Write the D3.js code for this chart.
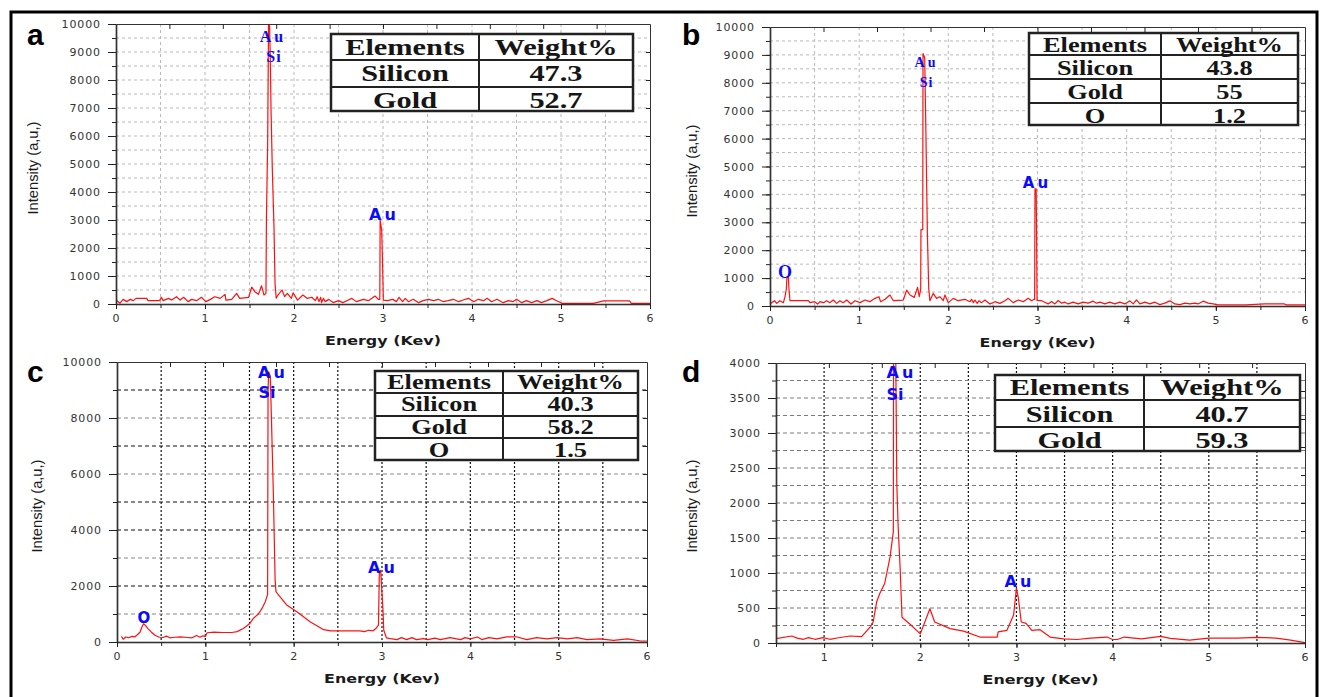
<!DOCTYPE html>
<html><head><meta charset="utf-8">
<script src="https://cdn.jsdelivr.net/npm/d3@7"></script>
<style>body{margin:0;background:#fff;} svg{display:block;}</style>
</head><body>
<svg id="fig" width="1320" height="697"></svg>
<script>
// ---------------- DATA ----------------
const spectrumA = [[0.00,140],[0.045,30],[0.08,165],[0.12,85],[0.16,165],[0.195,120],[0.225,200],[0.345,200],[0.36,120],[0.49,120],[0.51,240],[0.53,120],[0.59,200],[0.625,140],[0.68,260],[0.72,140],[0.76,240],[0.81,85],[0.85,165],[0.905,120],[0.96,240],[1.01,85],[1.06,165],[1.11,260],[1.17,200],[1.225,345],[1.235,140],[1.30,165],[1.355,380],[1.39,200],[1.49,240],[1.525,600],[1.56,440],[1.60,345],[1.635,650],[1.663,320],[1.685,380],[1.69,3000],[1.704,5740],[1.715,10500],[1.722,10500],[1.735,8500],[1.742,6930],[1.756,4860],[1.775,2760],[1.787,740],[1.80,210],[1.82,320],[1.865,500],[1.895,260],[1.925,380],[1.97,200],[1.99,400],[2.04,140],[2.10,320],[2.15,200],[2.20,240],[2.24,120],[2.26,260],[2.28,85],[2.30,240],[2.31,50],[2.33,200],[2.35,85],[2.39,165],[2.44,50],[2.50,120],[2.55,50],[2.61,140],[2.65,200],[2.70,85],[2.78,165],[2.835,120],[2.91,285],[2.948,165],[2.964,165],[2.968,3000],[2.985,2640],[2.996,1330],[3.004,140],[3.05,120],[3.11,165],[3.15,85],[3.18,240],[3.22,85],[3.25,200],[3.285,83],[3.34,167],[3.40,48],[3.45,119],[3.51,167],[3.57,119],[3.62,167],[3.68,83],[3.73,119],[3.79,167],[3.85,83],[3.90,143],[3.96,202],[4.02,83],[4.07,167],[4.13,119],[4.17,202],[4.22,83],[4.28,167],[4.35,48],[4.41,119],[4.46,83],[4.50,167],[4.56,48],[4.61,119],[4.67,48],[4.73,119],[4.78,48],[4.84,119],[4.90,202],[4.95,119],[5.01,24],[5.36,24],[5.48,110],[5.77,110],[5.79,24],[6.0,24]];

const spectrumB = [[0.0,60],[0.02,120],[0.05,190],[0.075,95],[0.11,190],[0.15,120],[0.168,330],[0.183,600],[0.19,1050],[0.205,1050],[0.213,600],[0.224,190],[0.43,190],[0.448,120],[0.50,155],[0.534,70],[0.56,155],[0.60,120],[0.635,190],[0.67,120],[0.71,214],[0.747,95],[0.785,190],[0.82,120],[0.86,214],[0.908,70],[0.953,190],[1.01,120],[1.065,214],[1.12,155],[1.177,274],[1.222,333],[1.24,155],[1.29,240],[1.345,393],[1.383,190],[1.495,214],[1.532,571],[1.57,393],[1.618,310],[1.655,666],[1.674,333],[1.69,600],[1.693,2740],[1.713,2740],[1.716,9050],[1.735,8900],[1.748,6300],[1.765,2600],[1.78,630],[1.793,190],[1.83,452],[1.868,274],[1.905,333],[1.943,190],[1.962,393],[2.0,120],[2.055,274],[2.11,190],[2.186,240],[2.242,155],[2.26,240],[2.28,120],[2.298,214],[2.324,95],[2.343,190],[2.373,120],[2.41,214],[2.466,70],[2.522,155],[2.578,95],[2.634,190],[2.672,274],[2.728,120],[2.784,214],[2.84,155],[2.896,274],[2.933,190],[2.963,240],[2.968,240],[2.972,4200],[2.985,4200],[2.99,2500],[2.995,200],[3.045,190],[3.08,137],[3.12,75],[3.157,160],[3.195,75],[3.232,196],[3.27,102],[3.307,137],[3.344,75],[3.40,137],[3.456,75],[3.51,137],[3.568,102],[3.624,173],[3.662,102],[3.70,137],[3.755,75],[3.81,137],[3.867,75],[3.923,137],[3.98,75],[4.036,185],[4.073,75],[4.11,220],[4.148,75],[4.204,137],[4.26,75],[4.316,137],[4.372,50],[4.428,102],[4.485,185],[4.54,75],[4.597,50],[4.653,102],[4.71,75],[4.765,102],[4.80,75],[4.858,173],[4.914,102],[4.97,75],[5.026,40],[5.34,40],[5.55,75],[5.77,75],[5.79,40],[6.0,40]];

const spectrumC = [[0.05,200],[0.07,100],[0.1,180],[0.13,150],[0.17,200],[0.2,180],[0.23,260],[0.26,350],[0.28,520],[0.30,650],[0.32,600],[0.35,480],[0.39,350],[0.43,240],[0.48,170],[0.52,160],[0.56,210],[0.6,150],[0.65,170],[0.72,180],[0.8,160],[0.85,150],[0.9,230],[0.94,170],[0.97,220],[1.0,200],[1.02,330],[1.1,350],[1.2,340],[1.3,340],[1.36,370],[1.43,480],[1.5,650],[1.545,850],[1.6,1000],[1.64,1190],[1.68,1450],[1.705,1700],[1.71,9000],[1.717,9650],[1.735,9500],[1.744,8500],[1.77,5300],[1.79,2200],[1.8,1800],[1.83,1670],[1.925,1310],[2.04,1070],[2.19,715],[2.34,440],[2.42,400],[2.6,400],[2.75,400],[2.8,370],[2.85,420],[2.9,400],[2.93,480],[2.96,600],[2.97,2500],[2.985,2560],[3.0,1730],[3.01,1200],[3.02,420],[3.05,150],[3.095,120],[3.17,85],[3.22,155],[3.28,85],[3.34,155],[3.39,85],[3.47,120],[3.52,85],[3.6,140],[3.66,86],[3.77,157],[3.89,86],[3.94,157],[4.0,110],[4.08,180],[4.13,86],[4.21,157],[4.3,110],[4.41,180],[4.53,180],[4.64,86],[4.75,157],[4.87,110],[4.98,157],[5.1,110],[5.21,157],[5.32,86],[5.47,110],[5.62,60],[5.78,110],[5.93,36],[6.0,36]];

const spectrumD = [[0.5,63],[0.664,100],[0.72,70],[0.785,53],[0.837,77],[0.906,53],[0.99,77],[1.06,53],[1.15,75],[1.27,100],[1.39,90],[1.48,230],[1.51,300],[1.547,590],[1.58,710],[1.63,850],[1.686,1230],[1.72,1590],[1.722,4100],[1.745,4100],[1.756,2280],[1.77,1660],[1.79,1090],[1.81,370],[1.824,350],[1.9,260],[2.0,130],[2.1,490],[2.15,300],[2.31,205],[2.45,170],[2.62,85],[2.8,85],[2.81,160],[2.9,180],[2.97,400],[3.0,780],[3.02,640],[3.05,300],[3.1,280],[3.16,180],[3.245,190],[3.35,85],[3.49,60],[3.63,50],[3.77,70],[3.94,85],[4.0,50],[4.05,50],[4.12,85],[4.3,60],[4.5,95],[4.6,65],[4.8,40],[5.0,70],[5.3,70],[5.5,80],[5.7,70],[5.85,40],[6.0,5]];

const tableA = [["Elements","Weight%"],["Silicon","47.3"],["Gold","52.7"]];
const tableB = [["Elements","Weight%"],["Silicon","43.8"],["Gold","55"],["O","1.2"]];
const tableC = [["Elements","Weight%"],["Silicon","40.3"],["Gold","58.2"],["O","1.5"]];
const tableD = [["Elements","Weight%"],["Silicon","40.7"],["Gold","59.3"]];

const yTicks10k = [0,1000,2000,3000,4000,5000,6000,7000,8000,9000,10000];
const yTicksC = [0,2000,4000,6000,8000,10000];
const yTicksD = [0,500,1000,1500,2000,2500,3000,3500,4000];
const xTicks06 = [0,1,2,3,4,5,6];
const xTicksD = [1,2,3,4,5,6];
const peakLabelsA = ["Au","Si","Au"];
const peakLabelsB = ["Au","Si","Au","O"];
const peakLabelsC = ["Au","Si","Au","O"];
const peakLabelsD = ["Au","Si","Au"];
const panelLetters = ["a","b","c","d"];
const xTitle = "Energy (Kev)";
const yTitle = "Intensity (a,u,)";

// ---------------- LAYOUT ----------------
const range = (a,b,s)=>d3.range(a,b+s/2,s).map(v=>+v.toFixed(4));
const svg = d3.select("#fig");
svg.append("rect").attr("x",11).attr("y",12).attr("width",1306).attr("height",720)
  .attr("fill","none").attr("stroke","#000").attr("stroke-width",3);

const panels = [
 {letter:panelLetters[0], lx:27, ly:45, data:spectrumA, x0:116,x1:650,yTop:24,yBot:304, xd:[0,6], yd:[0,10000],
  yTicks:yTicks10k, yMinor:range(0,10000,500), xTicks:xTicks06, xMinor:range(0,6,0.5),
  gridX:range(0.5,5.5,0.5), gridY:range(500,9500,500), gridStyle:"light",
  xtx:383, xty:345, ytx:33, yty:168,
  table:{rows:tableA, x:331, col:479, x2:633, ys:[34,60,87,111], fs:23, bl:[55,81,107.5]},
  labels:peakLabelsA.map((t,i)=>[
    {x:271.5,y:42,serif:true,fs:16,ls:3},{x:273.5,y:62,serif:true,fs:16,ls:1},{x:382.5,y:220,serif:false,fs:16,ls:3}][i]).map((o,i)=>({...o,t:peakLabelsA[i]}))},
 {letter:panelLetters[1], lx:682, ly:45, data:spectrumB, x0:770,x1:1305,yTop:27,yBot:306, xd:[0,6], yd:[0,10000],
  yTicks:yTicks10k, yMinor:range(0,10000,500), xTicks:xTicks06, xMinor:range(0,6,0.5),
  gridX:range(0.5,5.5,0.5), gridY:range(500,9500,500), gridStyle:"light",
  xtx:1037.5, xty:347, ytx:692, yty:171,
  table:{rows:tableB, x:1029, col:1161, x2:1298, ys:[33,55,79,103,125], fs:20, bl:[51.5,75,98.5,122.5]},
  labels:[{x:925,y:67,serif:true,fs:14,ls:3},{x:926,y:87,serif:true,fs:14,ls:1},{x:1035.5,y:188,serif:false,fs:15,ls:3},{x:785,y:278,serif:true,fs:18,ls:0}].map((o,i)=>({...o,t:peakLabelsB[i]}))},
 {letter:panelLetters[2], lx:27, ly:382, data:spectrumC, x0:117,x1:647,yTop:362,yBot:642, xd:[0,6], yd:[0,10000],
  yTicks:yTicksC, yMinor:range(0,10000,1000), xTicks:xTicks06, xMinor:range(0,6,0.5),
  gridX:range(0.5,5.5,0.5), gridY:range(1000,9000,1000), gridStyle:"darkC",
  xtx:382, xty:683, ytx:37, yty:506,
  table:{rows:tableC, x:375, col:503, x2:638, ys:[371,393,416,438,460], fs:20, bl:[389,411,434,456.5]},
  labels:[{x:271.5,y:378,serif:false,fs:16,ls:3},{x:267,y:398,serif:false,fs:16,ls:0},{x:381.5,y:573,serif:false,fs:16,ls:3},{x:144,y:623,serif:false,fs:15,ls:0}].map((o,i)=>({...o,t:peakLabelsC[i]}))},
 {letter:panelLetters[3], lx:682, ly:382, data:spectrumD, x0:776,x1:1305,yTop:363,yBot:643, xd:[0.5,6], yd:[0,4000],
  yTicks:yTicksD, yMinor:range(0,4000,250), xTicks:xTicksD, xMinor:range(0.5,6,0.5),
  gridX:range(1,5.5,0.5), gridY:range(250,3750,250), gridStyle:"darkD",
  xtx:1040.5, xty:684, ytx:692, yty:506,
  table:{rows:tableD, x:995, col:1144, x2:1300, ys:[375,400,427,451], fs:23, bl:[395,421.5,447.5]},
  labels:[{x:900,y:378,serif:false,fs:16,ls:3},{x:895,y:400,serif:false,fs:16,ls:0},{x:1018,y:587,serif:false,fs:16,ls:3}].map((o,i)=>({...o,t:peakLabelsD[i]}))}
];

const darkCLines = [9000,7000,5000,4000,2000];

panels.forEach((p,pi)=>{
  const x = d3.scaleLinear().domain(p.xd).range([p.x0,p.x1]);
  const y = d3.scaleLinear().domain(p.yd).range([p.yBot,p.yTop]);
  const g = svg.append("g");

  // grid
  const vStyle = p.gridStyle==="light" ? {c:"#b8b8b8",d:"3,3",w:1} : {c:"#111",d:"2,2",w:1.2};
  g.selectAll(null).data(p.gridX).join("line")
    .attr("x1",d=>x(d)).attr("x2",d=>x(d)).attr("y1",p.yTop).attr("y2",p.yBot)
    .attr("stroke",vStyle.c).attr("stroke-dasharray",vStyle.d).attr("stroke-width",vStyle.w);
  g.selectAll(null).data(p.gridY).join("line")
    .attr("x1",p.x0).attr("x2",p.x1).attr("y1",d=>y(d)).attr("y2",d=>y(d))
    .attr("stroke",d=>{
      if(p.gridStyle==="light") return "#b8b8b8";
      if(p.gridStyle==="darkC") return darkCLines.includes(d)?"#111":"#8a8a8a";
      return "#7a7a7a";})
    .attr("stroke-dasharray",p.gridStyle==="light"?"3,3":"4,3")
    .attr("stroke-width",p.gridStyle==="light"?1:1.2);

  // table
  const t = p.table;
  const tg = svg.append("g");
  tg.append("rect").attr("x",t.x).attr("y",t.ys[0]).attr("width",t.x2-t.x).attr("height",t.ys[t.ys.length-1]-t.ys[0])
    .attr("fill","#fff").attr("stroke","#222").attr("stroke-width",2.5);
  tg.selectAll(null).data(t.ys.slice(1,-1)).join("line")
    .attr("x1",t.x).attr("x2",t.x2).attr("y1",d=>d).attr("y2",d=>d).attr("stroke","#222").attr("stroke-width",2);
  tg.append("line").attr("x1",t.col).attr("x2",t.col).attr("y1",t.ys[0]).attr("y2",t.ys[t.ys.length-1])
    .attr("stroke","#222").attr("stroke-width",2);
  t.rows.forEach((row,ri)=>{
    row.forEach((cell,ci)=>{
      const cx = ci===0 ? (t.x+t.col)/2 : (t.col+t.x2)/2;
      tg.append("text").attr("transform",`translate(${cx},${t.bl[ri]}) scale(1.32,1)`)
        .attr("text-anchor","middle").attr("font-family","'Liberation Serif','Times New Roman',serif")
        .attr("font-weight","bold").attr("font-size",t.fs).attr("fill","#151515").text(cell);
    });
  });

  // spectrum
  const clipId = "clip"+pi;
  svg.append("clipPath").attr("id",clipId).append("rect")
    .attr("x",p.x0).attr("y",p.yTop).attr("width",p.x1-p.x0).attr("height",p.yBot-p.yTop);
  svg.append("path").datum(p.data).attr("clip-path",`url(#${clipId})`)
    .attr("d",d3.line().x(d=>x(d[0])).y(d=>y(d[1])))
    .attr("fill","none").attr("stroke","#ff1010").attr("stroke-width",1.2).attr("stroke-linejoin","round");

  // axes
  const ax = svg.append("g");
  // left major
  const left = ax.append("g").attr("transform",`translate(${p.x0},0)`)
    .call(d3.axisLeft(y).tickValues(p.yTicks).tickSize(8).tickSizeOuter(0).tickPadding(7).tickFormat(d3.format("d")));
  ax.append("g").attr("transform",`translate(${p.x0},0)`)
    .call(d3.axisLeft(y).tickValues(p.yMinor).tickSize(4).tickSizeOuter(0).tickFormat(""));
  const bottom = ax.append("g").attr("transform",`translate(0,${p.yBot})`)
    .call(d3.axisBottom(x).tickValues(p.xTicks).tickSize(5).tickSizeOuter(0).tickPadding(5).tickFormat(d3.format("d")));
  ax.append("g").attr("transform",`translate(0,${p.yBot})`)
    .call(d3.axisBottom(x).tickValues(p.xMinor).tickSize(4).tickSizeOuter(0).tickFormat(""));
  // top and right with inward ticks
  const topVals = d3.range(1,10).map(i=>p.xd[0]+(p.xd[1]-p.xd[0])*i/10);
  ax.append("g").attr("transform",`translate(0,${p.yTop})`)
    .call(d3.axisTop(x).tickValues(topVals).tickSize(-5).tickSizeOuter(0).tickFormat(""));
  const rightVals = d3.range(1,10).map(i=>p.yd[1]*i/10);
  ax.append("g").attr("transform",`translate(${p.x1},0)`)
    .call(d3.axisRight(y).tickValues(rightVals).tickSize(-4).tickSizeOuter(0).tickFormat(""));

  ax.selectAll(".domain").attr("stroke","#333").attr("stroke-width",1);
  left.select(".domain").attr("stroke","#111").attr("stroke-width",1.6);
  bottom.select(".domain").attr("stroke","#111").attr("stroke-width",1.6);
  ax.selectAll(".tick line").attr("stroke","#222");
  ax.selectAll(".tick text").attr("font-family","'DejaVu Sans',Verdana,sans-serif")
    .attr("font-size",11).attr("fill","#333").attr("letter-spacing","0.9");

  // titles
  svg.append("text").attr("x",p.xtx).attr("y",p.xty).attr("text-anchor","middle")
    .attr("font-family","'DejaVu Sans',Verdana,sans-serif").attr("font-weight","bold").attr("font-size",13)
    .attr("textLength",116).attr("lengthAdjust","spacingAndGlyphs").attr("fill","#1a1a1a").text(xTitle);
  svg.append("text").attr("transform",`translate(${p.ytx+4.5},${p.yty}) rotate(-90)`).attr("text-anchor","middle")
    .attr("font-family","'Liberation Sans',Arial,sans-serif").attr("font-size",14)
    .attr("textLength",93).attr("lengthAdjust","spacingAndGlyphs").attr("fill","#1a1a1a").text(yTitle);

  // panel letter
  svg.append("text").attr("x",p.lx).attr("y",p.ly).attr("font-family","'Liberation Sans',Arial,sans-serif")
    .attr("font-weight","bold").attr("font-size",30).attr("fill","#000").text(p.letter);

  // peak labels
  p.labels.forEach(l=>{
    svg.append("text").attr("x",l.x + l.ls/2).attr("y",l.y).attr("text-anchor","middle")
      .attr("font-family", l.serif ? "'Liberation Serif','Times New Roman',serif" : "'DejaVu Sans',Verdana,sans-serif")
      .attr("font-weight","bold").attr("font-size",l.fs).attr("letter-spacing",l.ls)
      .attr("fill","#0a0aff").text(l.t);
  });
});
</script>
</body></html>
